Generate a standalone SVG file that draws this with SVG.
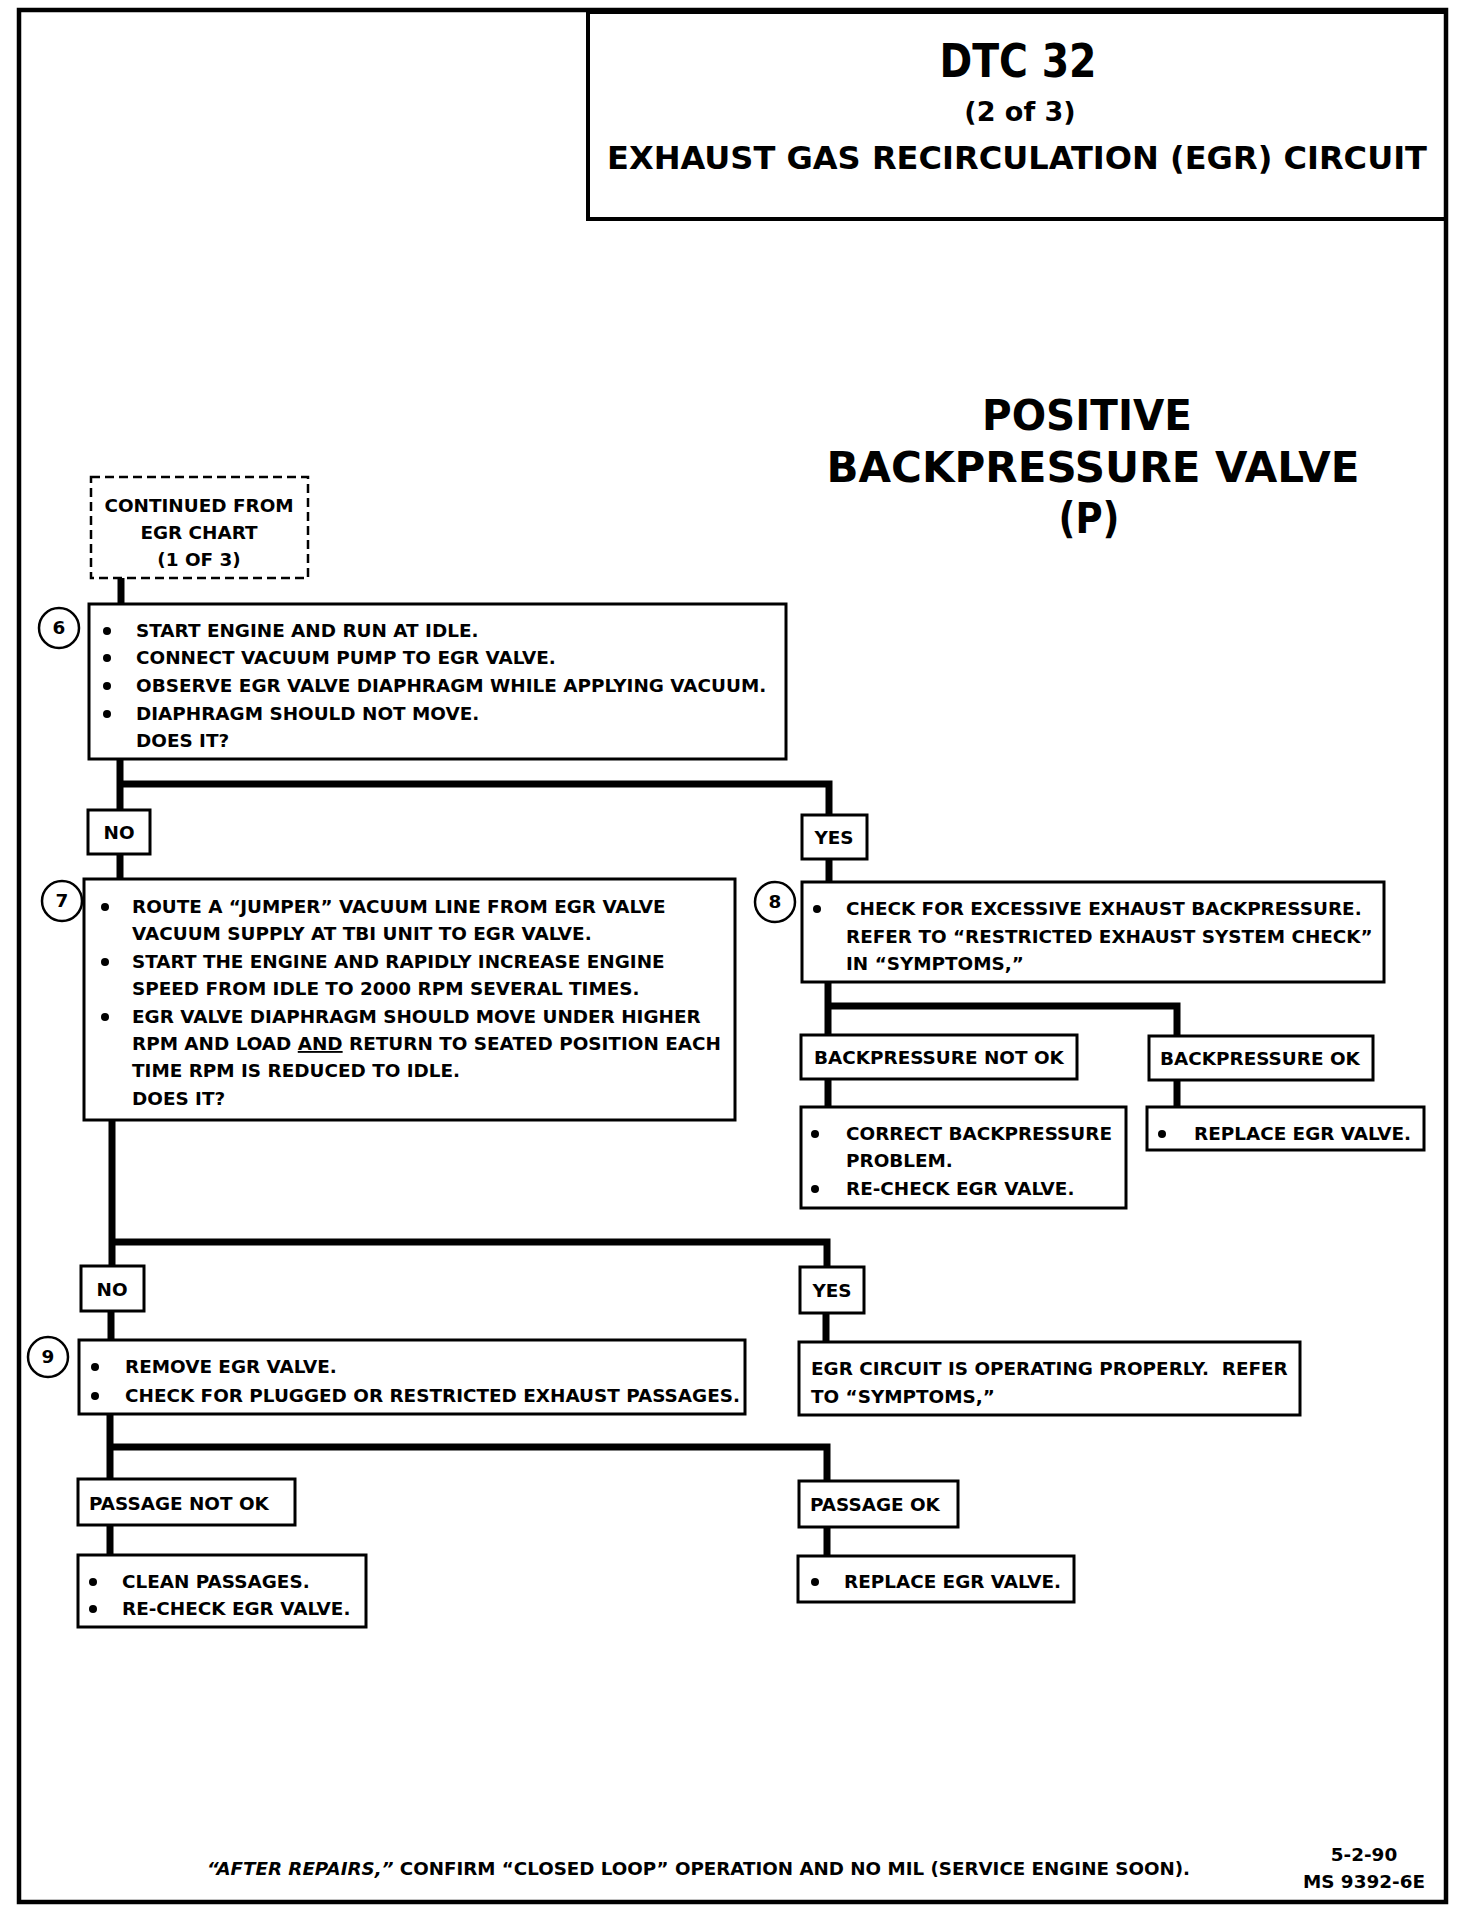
<svg xmlns="http://www.w3.org/2000/svg" width="1472" height="1910" viewBox="0 0 1472 1910">
<style>
.t{font-family:"DejaVu Sans","Liberation Sans",sans-serif;font-weight:bold;font-size:18.4px;fill:#000}
.c{text-anchor:middle}
.box{fill:#fff;stroke:#000;stroke-width:3}
.dash{fill:#fff;stroke:#000;stroke-width:2.5;stroke-dasharray:9 5}
.num{fill:#fff;stroke:#000;stroke-width:2.5}
.conn{fill:none;stroke:#000;stroke-width:7;stroke-linecap:butt;stroke-linejoin:miter}
.b{fill:#000}
.sub{font-size:43px}
</style>
<rect x="0" y="0" width="1472" height="1910" fill="#fff"/>
<g id="frame">
<rect x="19" y="10" width="1427" height="1892" fill="none" stroke="#000" stroke-width="4.5"/>
</g>
<g id="title">
<rect x="588" y="12" width="858" height="207" fill="none" stroke="#000" stroke-width="4"/>
<text class="t c" x="1018" y="77" style="font-size:46px" textLength="157" lengthAdjust="spacingAndGlyphs">DTC 32</text>
<text class="t c" x="1020" y="121" style="font-size:27px">(2 of 3)</text>
<text class="t c" x="1017" y="169" style="font-size:32px" textLength="820" lengthAdjust="spacingAndGlyphs">EXHAUST GAS RECIRCULATION (EGR) CIRCUIT</text>
</g>
<g id="subtitle">
<text class="t c sub" x="1087" y="430" textLength="210" lengthAdjust="spacingAndGlyphs">POSITIVE</text>
<text class="t c sub" x="1093" y="482" textLength="533" lengthAdjust="spacingAndGlyphs">BACKPRESSURE VALVE</text>
<text class="t c sub" x="1089" y="533" textLength="61" lengthAdjust="spacingAndGlyphs">(P)</text>
</g>
<g id="connectors">
<path class="conn" d="M121 578 V604"/>
<path class="conn" d="M120 759 V810 M120 784 H829 V815"/>
<path class="conn" d="M120 854 V879"/>
<path class="conn" d="M829 859 V882"/>
<path class="conn" d="M828 982 V1035 M828 1006 H1177 V1036"/>
<path class="conn" d="M828 1079 V1107 M1177 1080 V1107"/>
<path class="conn" d="M112 1120 V1266 M112 1242 H827 V1267"/>
<path class="conn" d="M111 1311 V1340 M826 1313 V1342"/>
<path class="conn" d="M110 1414 V1479 M110 1447 H827 V1481"/>
<path class="conn" d="M110 1525 V1555 M827 1527 V1556"/>
</g>
<g id="start">
<rect class="dash" x="91" y="477" width="217" height="101"/>
<text class="t c" x="199" y="512">CONTINUED FROM</text>
<text class="t c" x="199" y="539">EGR CHART</text>
<text class="t c" x="199" y="566">(1 OF 3)</text>
</g>
<g id="step6">
<circle class="num" cx="59" cy="628" r="20"/>
<text class="t c" x="59" y="634">6</text>
<rect class="box" x="89" y="604" width="697" height="155"/>
<circle class="b" cx="107" cy="631" r="4"/><text class="t" x="136" y="637">START ENGINE AND RUN AT IDLE.</text>
<circle class="b" cx="107" cy="658" r="4"/><text class="t" x="136" y="664">CONNECT VACUUM PUMP TO EGR VALVE.</text>
<circle class="b" cx="107" cy="686" r="4"/><text class="t" x="136" y="692">OBSERVE EGR VALVE DIAPHRAGM WHILE APPLYING VACUUM.</text>
<circle class="b" cx="107" cy="714" r="4"/><text class="t" x="136" y="720">DIAPHRAGM SHOULD NOT MOVE.</text>
<text class="t" x="136" y="747">DOES IT?</text>
</g>
<g id="no1">
<rect class="box" x="88" y="810" width="62" height="44"/>
<text class="t c" x="119" y="839">NO</text>
</g>
<g id="yes1">
<rect class="box" x="802" y="815" width="65" height="44"/>
<text class="t c" x="834" y="844">YES</text>
</g>
<g id="step7">
<circle class="num" cx="62" cy="901" r="20"/>
<text class="t c" x="62" y="907">7</text>
<rect class="box" x="84" y="879" width="651" height="241"/>
<circle class="b" cx="105" cy="907" r="4"/><text class="t" x="132" y="913">ROUTE A “JUMPER” VACUUM LINE FROM EGR VALVE</text>
<text class="t" x="132" y="940">VACUUM SUPPLY AT TBI UNIT TO EGR VALVE.</text>
<circle class="b" cx="105" cy="962" r="4"/><text class="t" x="132" y="968">START THE ENGINE AND RAPIDLY INCREASE ENGINE</text>
<text class="t" x="132" y="995">SPEED FROM IDLE TO 2000 RPM SEVERAL TIMES.</text>
<circle class="b" cx="105" cy="1017" r="4"/><text class="t" x="132" y="1023">EGR VALVE DIAPHRAGM SHOULD MOVE UNDER HIGHER</text>
<text class="t" x="132" y="1050">RPM AND LOAD <tspan text-decoration="underline">AND</tspan> RETURN TO SEATED POSITION EACH</text>
<text class="t" x="132" y="1077">TIME RPM IS REDUCED TO IDLE.</text>
<text class="t" x="132" y="1105">DOES IT?</text>
</g>
<g id="step8">
<circle class="num" cx="775" cy="902" r="20"/>
<text class="t c" x="775" y="908">8</text>
<rect class="box" x="802" y="882" width="582" height="100"/>
<circle class="b" cx="817" cy="909" r="4"/><text class="t" x="846" y="915">CHECK FOR EXCESSIVE EXHAUST BACKPRESSURE.</text>
<text class="t" x="846" y="943">REFER TO “RESTRICTED EXHAUST SYSTEM CHECK”</text>
<text class="t" x="846" y="970">IN “SYMPTOMS,”</text>
</g>
<g id="bpnotok">
<rect class="box" x="801" y="1035" width="276" height="44"/>
<text class="t" x="814" y="1064">BACKPRESSURE NOT OK</text>
</g>
<g id="bpok">
<rect class="box" x="1149" y="1036" width="224" height="44"/>
<text class="t" x="1160" y="1065">BACKPRESSURE OK</text>
</g>
<g id="correctbp">
<rect class="box" x="801" y="1107" width="325" height="101"/>
<circle class="b" cx="815" cy="1134" r="4"/><text class="t" x="846" y="1140">CORRECT BACKPRESSURE</text>
<text class="t" x="846" y="1167">PROBLEM.</text>
<circle class="b" cx="815" cy="1189" r="4"/><text class="t" x="846" y="1195">RE-CHECK EGR VALVE.</text>
</g>
<g id="replace1">
<rect class="box" x="1147" y="1107" width="277" height="43"/>
<circle class="b" cx="1162" cy="1134" r="4"/><text class="t" x="1194" y="1140">REPLACE EGR VALVE.</text>
</g>
<g id="no2">
<rect class="box" x="81" y="1266" width="63" height="45"/>
<text class="t c" x="112" y="1296">NO</text>
</g>
<g id="yes2">
<rect class="box" x="800" y="1267" width="64" height="46"/>
<text class="t c" x="832" y="1297">YES</text>
</g>
<g id="step9">
<circle class="num" cx="48" cy="1357" r="20"/>
<text class="t c" x="48" y="1363">9</text>
<rect class="box" x="79" y="1340" width="666" height="74"/>
<circle class="b" cx="95" cy="1367" r="4"/><text class="t" x="125" y="1373">REMOVE EGR VALVE.</text>
<circle class="b" cx="95" cy="1396" r="4"/><text class="t" x="125" y="1402">CHECK FOR PLUGGED OR RESTRICTED EXHAUST PASSAGES.</text>
</g>
<g id="egrok">
<rect class="box" x="799" y="1342" width="501" height="73"/>
<text class="t" x="811" y="1375" xml:space="preserve">EGR CIRCUIT IS OPERATING PROPERLY.  REFER</text>
<text class="t" x="811" y="1403">TO “SYMPTOMS,”</text>
</g>
<g id="passnotok">
<rect class="box" x="78" y="1479" width="217" height="46"/>
<text class="t" x="89" y="1510">PASSAGE NOT OK</text>
</g>
<g id="clean">
<rect class="box" x="78" y="1555" width="288" height="72"/>
<circle class="b" cx="93" cy="1582" r="4"/><text class="t" x="122" y="1588">CLEAN PASSAGES.</text>
<circle class="b" cx="93" cy="1609" r="4"/><text class="t" x="122" y="1615">RE-CHECK EGR VALVE.</text>
</g>
<g id="passok">
<rect class="box" x="799" y="1481" width="159" height="46"/>
<text class="t" x="810" y="1511">PASSAGE OK</text>
</g>
<g id="replace2">
<rect class="box" x="798" y="1556" width="276" height="46"/>
<circle class="b" cx="815" cy="1582" r="4"/><text class="t" x="844" y="1588">REPLACE EGR VALVE.</text>
</g>
<g id="footer">
<text class="t" x="207" y="1875" style="font-size:17.5px" textLength="983" lengthAdjust="spacingAndGlyphs"><tspan font-style="italic">“AFTER REPAIRS,”</tspan> CONFIRM “CLOSED LOOP” OPERATION AND NO MIL (SERVICE ENGINE SOON).</text>
<text class="t c" x="1364" y="1861">5-2-90</text>
<text class="t c" x="1364" y="1888">MS 9392-6E</text>
</g>
</svg>
